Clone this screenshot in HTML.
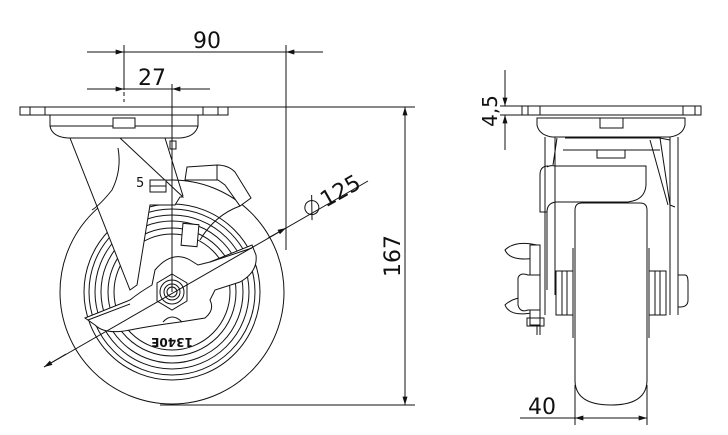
<!DOCTYPE html>
<html><head><meta charset="utf-8"><style>
html,body{margin:0;padding:0;background:#fff;}
svg{display:block;}
text{font-family:"DejaVu Sans","Liberation Sans",sans-serif;fill:#111;}
</style></head><body>
<svg width="728" height="435" viewBox="0 0 728 435" xmlns="http://www.w3.org/2000/svg" fill="none" stroke="#111" stroke-width="1">
<defs>
<marker id="ar" viewBox="0 0 10 6" refX="10" refY="3" markerWidth="12" markerHeight="5" orient="auto-start-reverse" markerUnits="userSpaceOnUse"><path d="M0,0L10,3L0,6z" fill="#111" stroke="none"/></marker>
</defs>

<circle cx="172" cy="292" r="112"/>
<circle cx="172" cy="292" r="88"/>
<circle cx="172" cy="292" r="83"/>
<circle cx="172" cy="292" r="77"/>
<circle cx="172" cy="292" r="71"/>
<circle cx="172" cy="292" r="64"/>
<circle cx="172" cy="292" r="58"/>
<text x="172" y="346" font-size="12" font-weight="bold" text-anchor="middle" transform="rotate(180 172 342)" stroke="none">1340E</text>

<rect x="20" y="107" width="208" height="8" fill="#fff"/>
<line x1="45" y1="107" x2="45" y2="115"/><line x1="30" y1="107" x2="30" y2="115"/>
<line x1="203" y1="107" x2="203" y2="115"/><line x1="218" y1="107" x2="218" y2="115"/>
<path d="M50,115 L198,115 L198,126 Q195,137 180,138 L68,138 Q52,137 50,126 Z" fill="#fff"/>
<line x1="50" y1="126" x2="198" y2="126"/>
<rect x="113" y="118" width="22" height="10" fill="#fff"/>

<path d="M70,138 L120,138 L183,197 L180,197 L175,205 L150,205 L137,285 L130,290 Z" fill="#fff"/>
<path d="M118,148 Q122,170 112,190 Q100,205 92,210" />
<line x1="165" y1="138" x2="183" y2="196"/>
<rect x="170" y="141" width="6" height="8" fill="#fff"/>
<rect x="150" y="180" width="16" height="12" fill="#fff"/>
<line x1="150" y1="186" x2="166" y2="186"/>
<text x="136" y="187" font-size="13" stroke="none">5</text>

<path d="M187,167 L217,165 Q228,165 235,172 L251,198 L240,206 L225,185 L218,180 L185,180 Z" fill="#fff"/>
<line x1="217" y1="165" x2="217" y2="180"/>
<rect x="182" y="224" width="16" height="22" transform="rotate(5 190 235)" fill="#fff"/>
<path d="M200,240 Q215,215 240,206" />

<path d="M155,270 Q172,250 190,260 L198,265 L210,262 L252,245 L256,255 Q258,272 240,282 L215,290 L210,300 Q215,310 205,318 L180,322 Q150,326 130,330 Q105,335 95,325 L85,318 L130,300 Q140,292 152,285 Z" fill="#fff"/>
<line x1="88" y1="320" x2="130" y2="304"/>
<line x1="210" y1="262" x2="252" y2="248"/>
<path d="M163,322 Q172,312 182,322"/>

<polygon points="172,274 187,283 187,301 172,310 157,301 157,283" fill="#fff"/>
<circle cx="172" cy="292" r="12"/>
<circle cx="172" cy="292" r="8"/>
<circle cx="172" cy="292" r="5"/>

<line x1="87" y1="52" x2="124" y2="52" marker-end="url(#ar)"/>
<line x1="124" y1="52" x2="323" y2="52"/>
<line x1="323" y1="52" x2="286" y2="52" marker-end="url(#ar)"/>
<line x1="124" y1="45" x2="124" y2="90"/>
<line x1="124" y1="92" x2="124" y2="102" stroke-dasharray="4,3"/>
<line x1="286" y1="45" x2="286" y2="250"/>
<text x="207" y="48" font-size="22" text-anchor="middle" stroke="none">90</text>
<line x1="87" y1="89" x2="124" y2="89" marker-end="url(#ar)"/>
<line x1="124" y1="89" x2="210" y2="89"/>
<line x1="210" y1="89" x2="172" y2="89" marker-end="url(#ar)"/>
<line x1="172" y1="84" x2="172" y2="292"/>
<text x="152" y="85" font-size="22" text-anchor="middle" stroke="none">27</text>
<line x1="228" y1="107" x2="415" y2="107"/>
<line x1="160" y1="405" x2="415" y2="405"/>
<line x1="405" y1="107" x2="405" y2="405" marker-start="url(#ar)" marker-end="url(#ar)"/>
<text x="400" y="256" font-size="22" text-anchor="middle" transform="rotate(-90 400 256)" stroke="none">167</text>
<line x1="44" y1="367" x2="368" y2="181"/>
<line x1="44" y1="367" x2="66" y2="354" marker-start="url(#ar)"/>
<line x1="286" y1="228" x2="268" y2="238" marker-start="url(#ar)"/>
<g transform="rotate(-29.5 330 195)">
<circle cx="308" cy="197" r="7"/><line x1="302" y1="208" x2="314" y2="186"/>
<text x="320" y="204" font-size="22" stroke="none">125</text>
</g>

<rect x="522" y="106" width="179" height="9" fill="#fff"/>
<line x1="528" y1="106" x2="528" y2="115"/><line x1="540" y1="106" x2="540" y2="115"/>
<line x1="683" y1="106" x2="683" y2="115"/><line x1="695" y1="106" x2="695" y2="115"/>
<path d="M537,118 L685,118 L685,125 Q683,135 670,137 L552,137 Q539,135 537,125 Z"/>
<rect x="600" y="118" width="23" height="10"/>
<line x1="545" y1="137" x2="545" y2="315"/><line x1="555" y1="137" x2="555" y2="220"/>
<line x1="670" y1="137" x2="670" y2="315"/><line x1="678" y1="137" x2="678" y2="315"/>
<path d="M565,138 L660,138 L670,140"/>
<line x1="563" y1="150" x2="660" y2="150"/>
<rect x="597" y="150" width="28" height="8"/>
<path d="M557,138 L553,165"/><path d="M660,138 L670,205 L675,207"/><path d="M650,140 L668,205"/>
<path d="M547,167 Q550,165 555,166 L646,166 L646,185 Q645,200 628,202 L556,202 Q547,203 547,212 L547,290"/>
<path d="M540,200 L540,175 Q540,166 548,166"/>
<path d="M540,200 L540,212 L547,212"/>
<line x1="555" y1="202" x2="555" y2="295"/>
<path d="M575,210 Q575,203 582,203 L640,203 Q647,203 647,210 L647,380 Q647,405 611,405 Q575,405 575,380 Z" fill="#fff"/>
<line x1="573" y1="248" x2="573" y2="338"/><line x1="649" y1="248" x2="649" y2="338"/>
<rect x="556" y="271" width="17" height="44" fill="#fff"/><line x1="562" y1="271" x2="562" y2="315"/><line x1="567" y1="271" x2="567" y2="315"/>
<rect x="649" y="271" width="17" height="44" fill="#fff"/><line x1="655" y1="271" x2="655" y2="315"/><line x1="660" y1="271" x2="660" y2="315"/>
<path d="M678,275 L685,275 Q688,275 688,282 L688,300 Q688,307 680,307 L678,307"/>
<path d="M537,245 Q515,240 505,250 Q510,262 537,258"/>
<path d="M537,298 Q515,295 505,305 Q510,318 537,312"/>
<rect x="530" y="245" width="10" height="80" fill="#fff"/>
<path d="M518,278 Q520,272 528,275 L540,275 L540,310 L528,310 Q520,313 518,305 Z" fill="#fff"/>
<rect x="527" y="318" width="17" height="8"/>
<line x1="537" y1="326" x2="537" y2="335"/><line x1="540" y1="326" x2="540" y2="335"/>
<line x1="505" y1="70" x2="505" y2="106" marker-end="url(#ar)"/>
<line x1="505" y1="115" x2="505" y2="150"/>
<line x1="505" y1="130" x2="505" y2="115" marker-end="url(#ar)"/>
<line x1="500" y1="106" x2="522" y2="106"/><line x1="500" y1="115" x2="522" y2="115"/>
<text x="497" y="111" font-size="20" text-anchor="middle" transform="rotate(-90 497 111)" stroke="none">4,5</text>
<line x1="575" y1="385" x2="575" y2="425"/><line x1="647" y1="385" x2="647" y2="425"/>
<line x1="520" y1="418" x2="575" y2="418"/>
<line x1="611" y1="418" x2="575" y2="418" marker-end="url(#ar)"/>
<line x1="611" y1="418" x2="647" y2="418" marker-end="url(#ar)"/>
<text x="542" y="414" font-size="22" text-anchor="middle" stroke="none">40</text>
</svg>
</body></html>
